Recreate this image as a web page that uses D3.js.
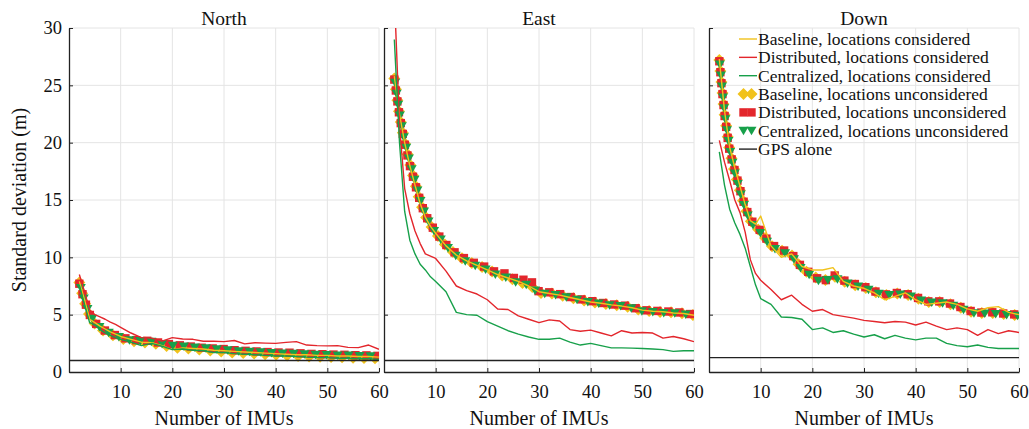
<!DOCTYPE html>
<html>
<head>
<meta charset="utf-8">
<script src="https://cdn.jsdelivr.net/npm/d3@7"></script>
<style>
  body { margin: 0; background: #fff; }
  svg { display: block; }
  svg text { font-family: "Liberation Serif", "Times New Roman", Times, serif !important; }
</style>
</head>
<body>
<svg id="chart" width="1029" height="429"></svg>
<script>
// Number of IMUs at which each configuration was evaluated
const imuCounts = [2, 3, 4, 5, 6, 7, 8, 9, 10, 12, 14, 16, 18, 20, 22, 24, 26, 28, 30,
                   32, 34, 36, 38, 40, 42, 44, 46, 48, 50, 52, 54, 56, 58, 60];

const xTicks = [10, 20, 30, 40, 50, 60];
const yTicks = [0, 5, 10, 15, 20, 25, 30];

const seriesNames = [
  "Baseline, locations considered",
  "Distributed, locations considered",
  "Centralized, locations considered",
  "Baseline, locations unconsidered",
  "Distributed, locations unconsidered",
  "Centralized, locations unconsidered",
  "GPS alone"
];
const panelTitles = ["North", "East", "Down"];

// Standard deviation (m), North
const northBaseCons   = [7.9, 6.3, 4.6, 4.3, 4.0, 3.75, 3.5, 3.3, 3.1, 2.85, 2.6, 2.55, 2.3, 1.95, 2.1, 2.05, 2.0, 1.9, 1.85, 1.8, 1.75, 1.7, 1.65, 1.6, 1.55, 1.5, 1.5, 1.45, 1.45, 1.4, 1.4, 1.35, 1.35, 1.3];
const northDistCons   = [8.5, 7.0, 5.4, 5.0, 4.8, 4.6, 4.35, 4.15, 3.9, 3.4, 3.0, 2.95, 2.7, 3.0, 2.88, 2.85, 2.68, 2.68, 2.65, 2.75, 2.45, 2.55, 2.52, 2.5, 2.58, 2.65, 2.35, 2.3, 2.28, 2.3, 2.15, 2.13, 2.35, 1.98];
const northCentCons   = [7.6, 5.9, 4.3, 4.1, 3.7, 3.4, 3.2, 3.0, 2.85, 2.6, 2.3, 2.5, 2.25, 1.95, 2.0, 1.9, 1.85, 1.7, 1.7, 1.6, 1.55, 1.5, 1.45, 1.4, 1.4, 1.35, 1.3, 1.25, 1.25, 1.2, 1.2, 1.15, 1.15, 1.1];
const northBaseUncons = [7.8, 6.1, 4.9, 4.2, 3.8, 3.5, 3.3, 3.1, 2.95, 2.7, 2.6, 2.55, 2.35, 2.15, 2.1, 2.0, 1.95, 1.85, 1.75, 1.7, 1.65, 1.6, 1.55, 1.5, 1.45, 1.4, 1.35, 1.35, 1.3, 1.3, 1.25, 1.25, 1.2, 1.2];
const northDistUncons = [7.7, 6.2, 5.0, 4.3, 3.9, 3.6, 3.4, 3.2, 3.05, 2.8, 2.75, 2.7, 2.5, 2.4, 2.3, 2.2, 2.1, 2.05, 2.0, 1.9, 1.85, 1.8, 1.75, 1.7, 1.7, 1.65, 1.6, 1.55, 1.55, 1.5, 1.5, 1.45, 1.45, 1.4];
const northCentUncons = [7.8, 6.2, 5.0, 4.3, 3.9, 3.6, 3.35, 3.15, 3.0, 2.75, 2.7, 2.65, 2.45, 2.3, 2.25, 2.15, 2.1, 2.0, 1.95, 1.85, 1.8, 1.75, 1.7, 1.65, 1.6, 1.6, 1.55, 1.5, 1.5, 1.45, 1.45, 1.4, 1.4, 1.35];
const northGps = 1.0;

// Standard deviation (m), East
const eastBaseCons   = [25.8, 22.5, 20.0, 18.0, 16.3, 14.7, 13.5, 12.7, 12.1, 11.0, 10.2, 9.7, 9.3, 8.9, 8.5, 8.2, 7.9, 7.5, 7.0, 6.85, 6.7, 6.5, 6.3, 6.1, 6.0, 5.85, 5.75, 5.6, 5.4, 5.3, 5.25, 5.15, 5.1, 4.95];
const eastDistCons   = [33.0, 21.5, 16.0, 13.8, 12.3, 11.2, 10.3, 10.1, 9.9, 8.8, 7.5, 7.1, 6.8, 6.3, 5.5, 5.45, 4.9, 4.6, 4.3, 4.55, 4.45, 3.7, 3.55, 3.65, 3.4, 3.15, 3.6, 3.4, 3.45, 3.4, 2.95, 3.1, 2.9, 2.65];
const eastCentCons   = [29.0, 20.0, 14.0, 11.5, 10.3, 9.4, 8.9, 8.3, 7.9, 7.0, 5.2, 5.0, 4.95, 4.4, 4.0, 3.6, 3.3, 3.05, 2.85, 2.85, 2.95, 2.6, 2.35, 2.5, 2.3, 2.1, 2.1, 2.08, 2.05, 2.0, 1.95, 1.8, 1.85, 1.85];
const eastBaseUncons = [25.6, 22.4, 20.0, 18.2, 16.5, 14.8, 13.6, 12.8, 12.1, 11.0, 10.2, 9.7, 9.3, 9.0, 8.5, 8.3, 7.8, 7.7, 6.9, 6.9, 6.7, 6.5, 6.3, 6.1, 6.0, 5.85, 5.8, 5.6, 5.35, 5.3, 5.2, 5.2, 5.1, 4.95];
const eastDistUncons = [25.5, 22.3, 19.9, 18.0, 16.4, 14.9, 13.7, 12.9, 12.2, 11.1, 10.3, 9.8, 9.4, 9.1, 8.6, 8.6, 7.9, 8.2, 7.0, 6.95, 6.8, 6.55, 6.35, 6.2, 6.05, 5.9, 5.85, 5.65, 5.4, 5.35, 5.3, 5.25, 5.15, 5.0];
const eastCentUncons = [25.7, 22.5, 20.1, 18.3, 16.6, 15.0, 13.7, 12.8, 12.1, 11.0, 10.1, 9.6, 9.2, 8.9, 8.4, 8.2, 7.7, 7.6, 6.8, 6.85, 6.65, 6.45, 6.25, 6.05, 5.95, 5.8, 5.75, 5.55, 5.3, 5.25, 5.15, 5.15, 5.05, 4.9];
const eastGps = 1.0;

// Standard deviation (m), Down
const downBaseCons   = [27.3, 22.8, 19.6, 17.8, 16.2, 14.6, 13.2, 12.9, 13.6, 11.0, 10.0, 10.3, 9.2, 8.9, 8.9, 9.1, 7.9, 7.5, 7.3, 6.9, 6.3, 6.6, 6.9, 6.3, 5.9, 6.0, 6.1, 5.9, 5.5, 5.3, 5.6, 5.7, 5.2, 5.0];
const downDistCons   = [20.2, 18.3, 16.7, 15.0, 13.9, 12.2, 9.8, 8.6, 8.0, 7.2, 6.3, 6.7, 5.9, 5.3, 5.45, 5.0, 4.85, 4.7, 4.5, 4.4, 4.3, 4.4, 4.35, 4.1, 4.35, 4.0, 3.7, 3.85, 3.7, 3.2, 3.7, 3.35, 3.6, 3.45];
const downCentCons   = [19.2, 16.3, 14.2, 13.0, 12.0, 10.8, 9.2, 7.6, 6.4, 5.9, 4.8, 4.75, 4.6, 3.7, 3.85, 3.45, 3.6, 3.3, 3.05, 3.25, 2.9, 3.2, 2.95, 2.8, 2.95, 2.95, 2.5, 2.3, 2.2, 2.35, 2.15, 2.05, 2.05, 2.05];
const downBaseUncons = [27.2, 22.5, 19.3, 17.4, 15.8, 14.3, 13.2, 12.7, 12.2, 11.0, 10.6, 10.2, 9.0, 8.4, 7.9, 8.4, 7.9, 7.6, 7.4, 7.0, 6.7, 6.85, 6.8, 6.5, 6.1, 6.15, 6.0, 5.75, 5.35, 5.1, 5.2, 5.1, 5.0, 4.95];
const downDistUncons = [27.1, 22.4, 19.2, 17.5, 15.9, 14.4, 13.3, 12.8, 12.3, 11.1, 10.7, 10.3, 9.1, 8.5, 7.8, 8.5, 8.0, 7.7, 7.45, 7.05, 6.75, 6.9, 6.85, 6.55, 6.15, 6.2, 6.05, 5.8, 5.4, 5.15, 5.25, 5.15, 5.05, 5.0];
const downCentUncons = [27.3, 22.6, 19.4, 17.3, 15.7, 14.2, 13.1, 12.6, 12.1, 10.9, 10.5, 10.1, 8.9, 8.3, 7.75, 8.3, 7.85, 7.55, 7.35, 6.95, 6.65, 6.8, 6.75, 6.45, 6.05, 6.1, 5.95, 5.7, 5.3, 5.05, 5.15, 5.05, 4.95, 4.9];
const downGps = 1.25;

const YELLOW = "#f1c21b", RED = "#e3262c", GREEN = "#17a04a", BLACK = "#222";
const SERIF = "'Liberation Serif', 'Times New Roman', Times, serif";

const panelData = [
  { base: northBaseCons, dist: northDistCons, cent: northCentCons,
    baseU: northBaseUncons, distU: northDistUncons, centU: northCentUncons, gps: northGps },
  { base: eastBaseCons, dist: eastDistCons, cent: eastCentCons,
    baseU: eastBaseUncons, distU: eastDistUncons, centU: eastCentUncons, gps: eastGps },
  { base: downBaseCons, dist: downDistCons, cent: downCentCons,
    baseU: downBaseUncons, distU: downDistUncons, centU: downCentUncons, gps: downGps }
];

// marker shapes (centered on the point)
const shapes = {
  diamond: "M0,-6L6,0L0,6L-6,0Z",
  square: "M-4.2,-4.2H4.2V4.2H-4.2Z",
  triangle: "M-5,-3.9L5,-3.9L0,4.6Z"
};

const svg = d3.select("#chart");
const root = svg.append("g").attr("font-family", SERIF);
const plotTop = 28, plotBottom = 372;
const panelX = [[69, 379], [384, 694], [709, 1019]];

const y = d3.scaleLinear().domain([0, 30]).range([plotBottom, plotTop]);

panelData.forEach((pd, i) => {
  const [x0, x1] = panelX[i];
  const x = d3.scaleLinear().domain([0, 60]).range([x0, x1]);
  const g = root.append("g");

  // grid
  g.append("g").selectAll("line").data(xTicks).join("line")
    .attr("x1", d => x(d)).attr("x2", d => x(d))
    .attr("y1", plotTop).attr("y2", plotBottom)
    .attr("stroke", "#e4e4e4").attr("stroke-width", 1);
  g.append("g").selectAll("line").data(yTicks.filter(v => v > 0)).join("line")
    .attr("x1", x0).attr("x2", x1)
    .attr("y1", d => y(d)).attr("y2", d => y(d))
    .attr("stroke", "#e4e4e4").attr("stroke-width", 1);

  // clip to plot area
  const clipId = "clip" + i;
  svg.append("clipPath").attr("id", clipId).append("rect")
    .attr("x", x0).attr("y", plotTop).attr("width", x1 - x0).attr("height", plotBottom - plotTop);
  const plot = g.append("g").attr("clip-path", `url(#${clipId})`);

  const line = d3.line().x((d, k) => x(imuCounts[k])).y(d => y(d));

  // unconsidered series: markers spaced evenly along each curve
  const markerSets = [
    { values: pd.baseU, color: YELLOW, shape: shapes.diamond, offset: 0 },
    { values: pd.distU, color: RED, shape: shapes.square, offset: 0 },
    { values: pd.centU, color: GREEN, shape: shapes.triangle, offset: 5.5 }
  ];
  markerSets.forEach(ms => {
    const guide = plot.append("path").attr("d", line(ms.values)).attr("fill", "none").attr("stroke", "none");
    const node = guide.node();
    const total = node.getTotalLength();
    const pts = d3.range(ms.offset, total, 11).map(s => node.getPointAtLength(s));
    guide.remove();
    plot.append("g").selectAll("path").data(pts).join("path")
      .attr("d", ms.shape)
      .attr("transform", p => `translate(${p.x},${p.y})`)
      .attr("fill", ms.color);
  });

  // considered series: thin lines
  [[pd.base, YELLOW], [pd.dist, RED], [pd.cent, GREEN]].forEach(([vals, col]) => {
    plot.append("path").attr("d", line(vals))
      .attr("fill", "none").attr("stroke", col).attr("stroke-width", 1.4)
      .attr("stroke-linejoin", "round");
  });

  // GPS alone
  plot.append("line")
    .attr("x1", x(0)).attr("x2", x(60))
    .attr("y1", y(pd.gps)).attr("y2", y(pd.gps))
    .attr("stroke", BLACK).attr("stroke-width", 1.4);

  // axes
  const xAxis = d3.axisBottom(x).tickValues(xTicks).tickSize(-4).tickSizeOuter(0).tickPadding(13);
  const ga = g.append("g").attr("transform", `translate(0,${plotBottom})`).call(xAxis);
  ga.attr("font-family", SERIF).attr("font-size", 18.5);
  ga.selectAll("text").attr("fill", "#111");
  ga.select(".domain").attr("stroke", BLACK).attr("stroke-width", 1.3);
  ga.selectAll(".tick line").attr("stroke", BLACK);

  const yAxis = d3.axisLeft(y).tickValues(yTicks).tickSize(-4).tickSizeOuter(0).tickPadding(7);
  if (i > 0) yAxis.tickFormat("");
  const gy = g.append("g").attr("transform", `translate(${x0},0)`).call(yAxis);
  gy.attr("font-family", SERIF).attr("font-size", 18.5);
  gy.selectAll("text").attr("fill", "#111");
  gy.select(".domain").attr("stroke", BLACK).attr("stroke-width", 1.3);
  gy.selectAll(".tick line").attr("stroke", BLACK);

  // titles
  g.append("text").attr("x", (x0 + x1) / 2).attr("y", 25)
    .attr("text-anchor", "middle").attr("font-size", 19.5).attr("fill", "#111")
    .text(panelTitles[i]);
  g.append("text").attr("x", (x0 + x1) / 2).attr("y", 425)
    .attr("text-anchor", "middle").attr("font-size", 20).attr("fill", "#111")
    .text("Number of IMUs");
});

// y-axis title
root.append("text")
  .attr("transform", "translate(26,200) rotate(-90)")
  .attr("text-anchor", "middle").attr("font-size", 20).attr("fill", "#111")
  .text("Standard deviation (m)");

// legend (inside the Down panel)
const legendItems = [
  { kind: "line", color: YELLOW },
  { kind: "line", color: RED },
  { kind: "line", color: GREEN },
  { kind: "marker", color: YELLOW, shape: shapes.diamond },
  { kind: "marker", color: RED, shape: shapes.square },
  { kind: "marker", color: GREEN, shape: shapes.triangle },
  { kind: "line", color: BLACK }
];
const legend = root.append("g");
legendItems.forEach((it, k) => {
  const base = 45 + k * 18.35;
  const cy = base - 6;
  if (it.kind === "line") {
    legend.append("line").attr("x1", 739).attr("x2", 757).attr("y1", cy).attr("y2", cy)
      .attr("stroke", it.color).attr("stroke-width", 1.4);
  } else {
    [743.5, 751.5].forEach(cx => legend.append("path").attr("d", it.shape)
      .attr("transform", `translate(${cx},${cy})`).attr("fill", it.color));
  }
  legend.append("text").attr("x", 758).attr("y", base)
    .attr("font-size", 17.5).attr("fill", "#111").text(seriesNames[k]);
});
</script>
</body>
</html>
